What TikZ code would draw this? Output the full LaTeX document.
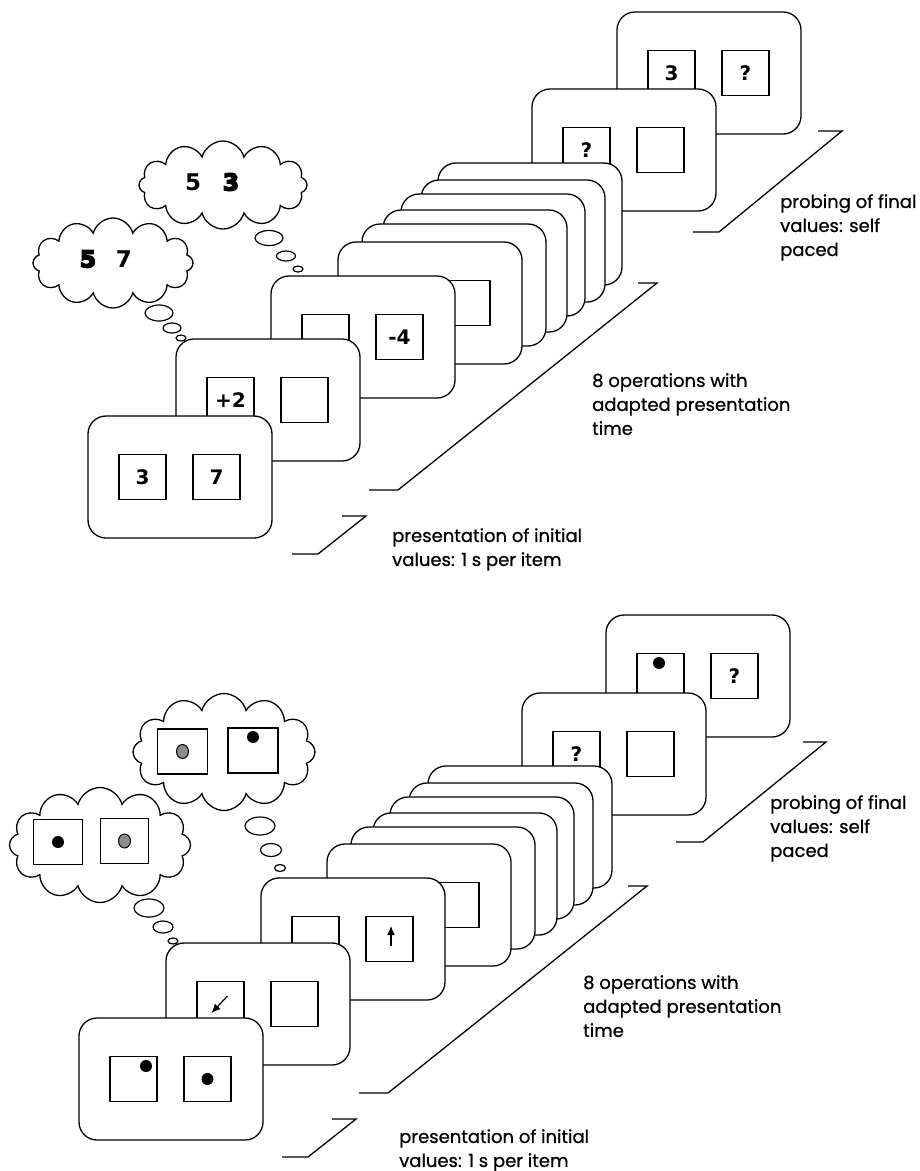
\documentclass[tikz,border=0pt]{standalone}
\usepackage{fontspec}
\setmainfont{Poppins}
\newfontfamily\captionfont{Poppins}[FakeBold=0.8]
\newfontfamily\digitfont{DejaVu Sans}
\newfontfamily\heavydigitfont{DejaVu Sans}[BoldFeatures={FakeBold=7}]
\usetikzlibrary{shapes.geometric,shapes.symbols,arrows.meta}

\begin{document}
\begin{tikzpicture}
[every node/.style={inner sep=0pt},
 screen/.style={rectangle, rounded corners=18pt, minimum width=184pt, minimum height=122pt, fill=white, line width=1.3pt, draw=black},
 slot/.style={rectangle, minimum width=47pt, minimum height=45pt, line width=1.3pt, draw=black, font=\digitfont\bfseries\fontsize{20}{20}\selectfont},
 thought/.style={cloud, cloud puffs=12, cloud ignores aspect, fill=white, line width=1.3pt, draw=black},
 puff/.style={ellipse, line width=1.2pt, draw=black},
 digit/.style={font=\digitfont\bfseries\fontsize{23}{23}\selectfont},
 heavydigit/.style={font=\heavydigitfont\bfseries\fontsize{23}{23}\selectfont},
 dot/.style={circle, minimum size=12pt, fill=black},
 greydot/.style={ellipse, minimum width=12pt, minimum height=14pt, fill=black!45, draw=black, line width=1pt},
 caption/.style={anchor=north west, align=left, font=\captionfont\fontsize{18}{24}\selectfont},
 bracket/.style={line width=1.3pt},
 move/.style={line width=1.2pt, -{Latex[length=9pt,width=8pt]}}]
\useasboundingbox (0pt, 0pt) rectangle (920pt, -1171pt);

% upper sequence: numbers
\node (f11) [screen] at (709pt, -73pt) {};
\node (s11a) [slot] at ([xshift=-37.5pt]f11.center) {3};
\node (s11b) [slot] at ([xshift=36.5pt]f11.center) {?};
\node (f10) [screen] at (624pt, -150pt) {};
\node (s10a) [slot] at ([xshift=-37.5pt]f10.center) {?};
\node (s10b) [slot] at ([xshift=36.5pt]f10.center) {};
\node (f9) [screen] at (530pt, -224pt) {};
\node (f8) [screen] at (513pt, -241pt) {};
\node (f7) [screen] at (493pt, -255pt) {};
\node (f6) [screen] at (475pt, -271pt) {};
\node (f5) [screen] at (454pt, -285pt) {};
\node (f4) [screen] at (430pt, -303pt) {};
\node (s4b) [slot] at ([xshift=36.5pt]f4.center) {};
\node (f3) [screen] at (363pt, -337pt) {};
\node (s3a) [slot] at ([xshift=-37.5pt]f3.center) {};
\node (s3b) [slot] at ([xshift=36.5pt]f3.center) {-4};
\node (f2) [screen] at (268pt, -400pt) {};
\node (s2a) [slot] at ([xshift=-37.5pt]f2.center) {+2};
\node (s2b) [slot] at ([xshift=36.5pt]f2.center) {};
\node (f1) [screen] at (180pt, -477pt) {};
\node (s1a) [slot] at ([xshift=-37.5pt]f1.center) {3};
\node (s1b) [slot] at ([xshift=36.5pt]f1.center) {7};

\node (cB) [thought, minimum width=160pt, minimum height=90pt] at (113pt, -263pt) {};
\node (cA) [thought, minimum width=168pt, minimum height=88pt] at (223pt, -185pt) {};
\node (cA1) [digit] at ([xshift=-30pt,yshift=3pt]cA.center) {5};
\node (cA2) [heavydigit] at ([xshift=8pt,yshift=3pt]cA.center) {3};
\node (cB1) [heavydigit] at ([xshift=-25pt,yshift=4pt]cB.center) {5};
\node (cB2) [digit] at ([xshift=11pt,yshift=4pt]cB.center) {7};
\node (pA1) [puff, minimum width=28pt, minimum height=15pt] at (269pt, -238pt) {};
\node (pA2) [puff, minimum width=19pt, minimum height=10pt] at (286pt, -256pt) {};
\node (pA3) [puff, minimum width=10pt, minimum height=6pt] at (298pt, -269pt) {};
\node (pB1) [puff, minimum width=28pt, minimum height=16pt] at (159pt, -313pt) {};
\node (pB2) [puff, minimum width=18pt, minimum height=10pt] at (172pt, -328pt) {};
\node (pB3) [puff, minimum width=10pt, minimum height=6pt] at (181pt, -338pt) {};

\draw [bracket] (818pt, -131pt) -- (842pt, -131pt) -- (719pt, -232pt) -- (693pt, -232pt);
\draw [bracket] (638pt, -283pt) -- (657pt, -283pt) -- (398pt, -490pt) -- (369pt, -490pt);
\draw [bracket] (342pt, -516pt) -- (366pt, -516pt) -- (318pt, -554pt) -- (292pt, -554pt);
\node (t1) [caption] at (780pt, -194pt) {probing of final\\values: self\\paced};
\node (t2) [caption] at (592pt, -373pt) {8 operations with\\adapted presentation\\time};
\node (t3) [caption] at (392pt, -528pt) {presentation of initial\\values: 1 s per item};

% lower sequence: dot positions
\node (g11) [screen] at (698pt, -676pt) {};
\node (r11a) [slot] at ([xshift=-37.5pt]g11.center) {};
\node (d11) [dot] at ([xshift=-1.5pt,yshift=13pt]r11a.center) {};
\node (r11b) [slot] at ([xshift=36.5pt]g11.center) {?};
\node (g10) [screen] at (614pt, -754pt) {};
\node (r10a) [slot] at ([xshift=-37.5pt]g10.center) {?};
\node (r10b) [slot] at ([xshift=36.5pt]g10.center) {};
\node (g9) [screen] at (520pt, -827pt) {};
\node (g8) [screen] at (501pt, -844pt) {};
\node (g7) [screen] at (482pt, -858pt) {};
\node (g6) [screen] at (465pt, -874pt) {};
\node (g5) [screen] at (443pt, -888pt) {};
\node (g4) [screen] at (419pt, -905pt) {};
\node (r4b) [slot] at ([xshift=36.5pt]g4.center) {};
\node (g3) [screen] at (353pt, -939pt) {};
\node (r3a) [slot] at ([xshift=-37.5pt]g3.center) {};
\node (r3b) [slot] at ([xshift=36.5pt]g3.center) {};
\coordinate (u0) at ([xshift=1.5pt,yshift=-7pt]r3b.center);
\coordinate (u1) at ([xshift=1.5pt,yshift=13pt]r3b.center);
\draw [move] (u0) -- (u1);
\node (g2) [screen] at (258pt, -1004pt) {};
\node (r2a) [slot] at ([xshift=-37.5pt]g2.center) {};
\coordinate (v0) at ([xshift=7pt,yshift=8pt]r2a.center);
\coordinate (v1) at ([xshift=-9pt,yshift=-9pt]r2a.center);
\draw [move] (v0) -- (v1);
\node (r2b) [slot] at ([xshift=36.5pt]g2.center) {};
\node (g1) [screen] at (171pt, -1079pt) {};
\node (r1a) [slot] at ([xshift=-37.5pt]g1.center) {};
\node (d1a) [dot] at ([xshift=12.5pt,yshift=13pt]r1a.center) {};
\node (r1b) [slot] at ([xshift=36.5pt]g1.center) {};
\node (d1b) [dot] at (r1b.center) {};

\node (cD) [thought, minimum width=181pt, minimum height=115pt] at (100pt, -845pt) {};
\node (cC) [thought, minimum width=182pt, minimum height=117pt] at (224pt, -752pt) {};
\node (qC1) [slot, minimum width=50pt] at ([xshift=-41.5pt,yshift=0.5pt]cC.center) {};
\node (qC1d) [greydot] at (qC1.center) {};
\node (qC2) [slot, minimum width=50pt] at ([xshift=29pt,yshift=1.5pt]cC.center) {};
\node (qC2d) [dot] at ([yshift=13.5pt]qC2.center) {};
\node (qD1) [slot, minimum width=49pt] at ([xshift=-42pt,yshift=3pt]cD.center) {};
\node (qD1d) [dot] at (qD1.center) {};
\node (qD2) [slot, minimum width=48pt] at ([xshift=24.5pt,yshift=4pt]cD.center) {};
\node (qD2d) [greydot] at (qD2.center) {};
\node (pC1) [puff, minimum width=30pt, minimum height=18pt] at (260pt, -826pt) {};
\node (pC2) [puff, minimum width=21pt, minimum height=13pt] at (271pt, -850pt) {};
\node (pC3) [puff, minimum width=11pt, minimum height=7pt] at (280pt, -868pt) {};
\node (pD1) [puff, minimum width=30pt, minimum height=18pt] at (149pt, -908pt) {};
\node (pD2) [puff, minimum width=20pt, minimum height=12pt] at (163pt, -927pt) {};
\node (pD3) [puff, minimum width=10pt, minimum height=6pt] at (173pt, -941pt) {};

\draw [bracket] (803pt, -742pt) -- (826pt, -742pt) -- (703pt, -842pt) -- (676pt, -842pt);
\draw [bracket] (628pt, -886pt) -- (647pt, -886pt) -- (388pt, -1093pt) -- (359pt, -1093pt);
\draw [bracket] (332pt, -1119pt) -- (356pt, -1119pt) -- (308pt, -1157pt) -- (282pt, -1157pt);
\node (t4) [caption] at (770pt, -795pt) {probing of final\\values: self\\paced};
\node (t5) [caption] at (583pt, -975pt) {8 operations with\\adapted presentation\\time};
\node (t6) [caption] at (399pt, -1129pt) {presentation of initial\\values: 1 s per item};
\end{tikzpicture}
\end{document}
